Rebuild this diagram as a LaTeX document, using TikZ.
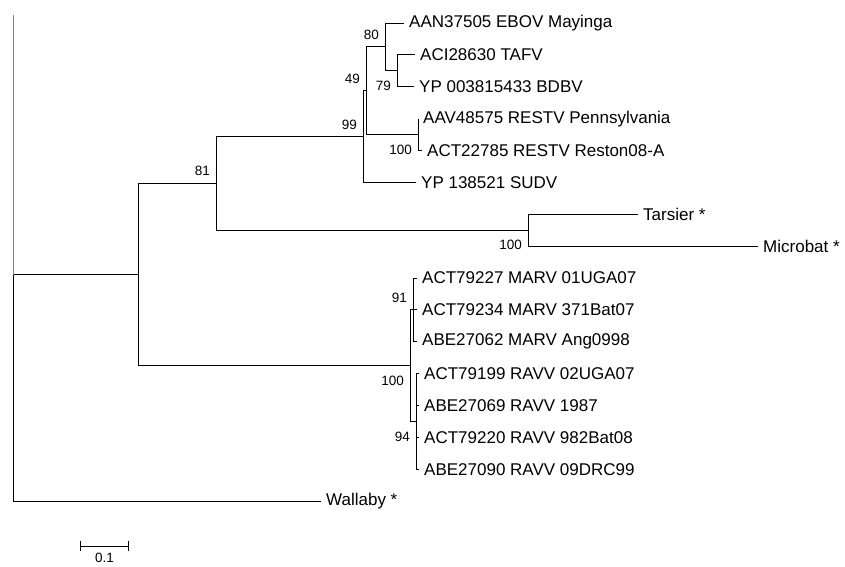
\documentclass[tikz,border=0pt]{standalone}
\usepackage{fontspec}
\setmainfont{Liberation Sans}
\usetikzlibrary{arrows.meta}

\tikzset{
  taxon/.style={anchor=west,inner xsep=5pt,inner ysep=0pt,font=\fontsize{17}{20}\selectfont},
  bsup/.style={anchor=south east,inner sep=0pt,font=\fontsize{13.5}{16}\selectfont},
  bsdown/.style={anchor=north east,inner sep=0pt,font=\fontsize{13.5}{16}\selectfont},
  branch/.style={line width=1pt},
}

\begin{document}
\begin{tikzpicture}[x=1pt,y=-1pt]
\useasboundingbox (0,0) rectangle (845,566);
% internal nodes
\foreach \name/\x/\y in {%
  n79/397/70.8, n80/385/46.9, nrest/418/134.5, n49/366/90.7,
  n99/363/136.5, ntm/528/230.2, nebo/216/183.3, nmarv/413/309.9,
  nravv/416/421.5, nmr/410/365.7, nfilo/138/274.5, root/13/274.5,
  rtop/13/15, sbl/80/546, sbr/129/546}
  \coordinate (\name) at (\x,\y);
% taxa
\foreach \name/\x/\y/\txt in {%
  ebov/404/23/AAN37505 EBOV Mayinga,
  tafv/415/54.9/ACI28630 TAFV,
  bdbv/414/86.7/YP 003815433 BDBV,
  penn/418/118.6/AAV48575 RESTV Pennsylvania,
  rest/422/150.5/ACT22785 RESTV Reston08-A,
  sudv/416/182.4/YP 138521 SUDV,
  tars/638/214.2/Tarsier *,
  micro/758/246.1/Microbat *,
  marva/417/278/ACT79227 MARV 01UGA07,
  marvb/417/309.9/ACT79234 MARV 371Bat07,
  marvc/417/341.8/ABE27062 MARV Ang0998,
  ravva/419/373.6/ACT79199 RAVV 02UGA07,
  ravvb/419/405.5/ABE27069 RAVV 1987,
  ravvc/419/437.4/ACT79220 RAVV 982Bat08,
  ravvd/419/469.3/ABE27090 RAVV 09DRC99,
  wall/321/501/Wallaby *}
  \node[taxon] (\name) at (\x,\y) {\txt};
% branches
\foreach \p/\c in {%
  n80/ebov, n80/n79, n79/tafv, n79/bdbv, nrest/penn, nrest/rest,
  n49/n80, n49/nrest, n99/n49, n99/sudv, ntm/tars, ntm/micro,
  nebo/n99, nebo/ntm, nmarv/marva, nmarv/marvb, nmarv/marvc,
  nravv/ravva, nravv/ravvb, nravv/ravvc, nravv/ravvd,
  nmr/nmarv, nmr/nravv, nfilo/nebo, nfilo/nmr, root/nfilo, root/wall}
  \draw[branch] (\p) |- (\c);
\draw[branch,gray] (rtop) -- (root);
% bootstrap values
\foreach \n/\v in {nebo/81, n99/99, n49/49, n80/80, nmarv/91}
  \node[bsup] (bs-\n) at ([xshift=-6pt,yshift=7pt]\n) {\v};
\foreach \n/\v in {n79/79, nrest/100, ntm/100, nmr/100, nravv/94}
  \node[bsdown] (bs-\n) at ([xshift=-6pt,yshift=-10pt]\n) {\v};
% scale bar
\draw[branch,{Bar[width=10pt]}-{Bar[width=10pt]}] (sbl) -- (sbr);
\node[anchor=north,inner sep=0pt,font=\fontsize{13.5}{16}\selectfont] (sblab) at (104.5,553) {0.1};
\end{tikzpicture}
\end{document}
